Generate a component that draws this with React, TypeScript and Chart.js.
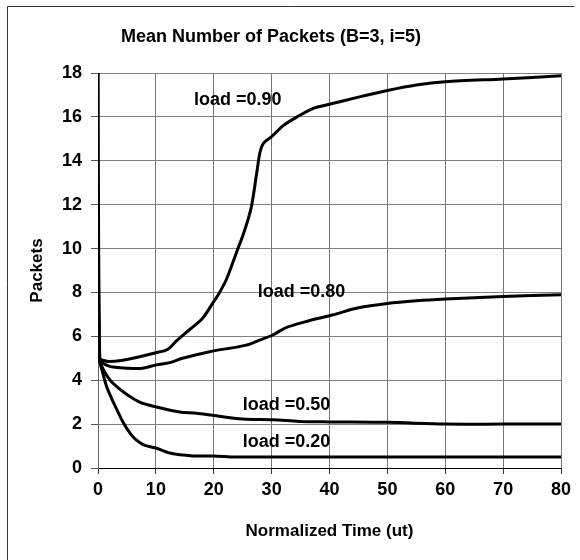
import React, { useEffect, useRef } from "react";
import { Chart, registerables } from "chart.js";

Chart.register(...registerables);

const chartTitle = "Mean Number of Packets (B=3, i=5)";
const xTitle = "Normalized Time (ut)";
const yTitle = "Packets";

const seriesNames = ["load =0.90", "load =0.80", "load =0.50", "load =0.20"];

const time90 = [0, 0.3, 1, 2, 4, 7, 10, 12, 13.6, 15.8, 18, 19.8, 21, 22.2, 23.9, 25.3, 26.5, 27.4, 28, 28.6, 30, 32, 34.4, 37.3, 39.6, 45, 50, 55, 60, 70, 80];
const load90 = [20, 5.0, 4.9, 4.85, 4.9, 5.06, 5.25, 5.4, 5.8, 6.3, 6.8, 7.5, 8.0, 8.6, 9.8, 10.8, 11.9, 13.4, 14.4, 14.8, 15.1, 15.6, 16.0, 16.4, 16.55, 16.9, 17.2, 17.45, 17.6, 17.73, 17.87];

const time80 = [0, 0.3, 1, 1.8, 2.6, 5, 7.7, 10.1, 12.4, 14.6, 19.3, 25.6, 27.9, 30.2, 32.5, 35.9, 40.5, 45, 50, 55, 60, 70, 80];
const load80 = [13, 4.9, 4.75, 4.65, 4.6, 4.55, 4.55, 4.7, 4.8, 5.0, 5.3, 5.6, 5.83, 6.06, 6.4, 6.67, 6.97, 7.3, 7.5, 7.62, 7.7, 7.82, 7.9];

const time50 = [0, 0.3, 1, 2.1, 3.5, 5, 7.2, 10.1, 14.1, 17, 19.8, 25, 30.2, 34.8, 40, 50, 60, 70, 80];
const load50 = [7, 4.9, 4.45, 4.0, 3.65, 3.35, 3.0, 2.78, 2.55, 2.5, 2.4, 2.23, 2.2, 2.12, 2.1, 2.08, 2.0, 2.0, 2.0];

const time20 = [0, 0.3, 0.8, 1.5, 2.3, 3.3, 4.3, 5.5, 6.5, 7.7, 8.8, 10, 12.4, 16.4, 19.8, 23.9, 30, 40, 50, 60, 70, 80];
const load20 = [6.8, 4.9, 4.35, 3.7, 3.2, 2.64, 2.1, 1.6, 1.3, 1.08, 0.98, 0.91, 0.68, 0.55, 0.55, 0.5, 0.5, 0.5, 0.5, 0.5, 0.5, 0.5];

// label anchors in data units (time, packets)
const labelTimes = [16.6, 27.6, 25.0, 25.0];
const labelValues = [16.75, 8.0, 2.88, 1.2];

const xMin = 0, xMax = 80, xStep = 10;
const yMin = 0, yMax = 18, yStep = 2;

const zip = (t: number[], v: number[]) => t.map((x, i) => ({ x, y: v[i] }));

const FONT = "'Liberation Sans', Arial, sans-serif";

export default function App() {
  const ref = useRef<HTMLCanvasElement>(null);
  useEffect(() => {
    document.body.style.margin = "0";
    const ctx = ref.current!.getContext("2d")!;
    const series = [zip(time90, load90), zip(time80, load80), zip(time50, load50), zip(time20, load20)];

    const decor = {
      id: "decor",
      beforeDraw(chart: any) {
        const c = chart.ctx;
        c.save();
        c.fillStyle = "#fff";
        c.fillRect(0, 0, chart.width, chart.height);
        c.strokeStyle = "#333";
        c.lineWidth = 1;
        c.beginPath();
        c.moveTo(7.5, 560);
        c.lineTo(7.5, 6.5);
        c.lineTo(574, 6.5);
        c.stroke();
        c.fillStyle = "#000";
        c.font = `bold 18px ${FONT}`;
        c.textAlign = "center";
        c.textBaseline = "middle";
        c.fillText(chartTitle, 271, 37);
        c.restore();
      },
      afterDatasetsDraw(chart: any) {
        const c = chart.ctx;
        const xs = chart.scales.x, ys = chart.scales.y;
        c.save();
        c.fillStyle = "#000";
        c.font = `bold 18px ${FONT}`;
        c.textAlign = "left";
        c.textBaseline = "middle";
        seriesNames.forEach((n, i) => {
          c.fillText(n, xs.getPixelForValue(labelTimes[i]), ys.getPixelForValue(labelValues[i]));
        });
        c.restore();
      },
    };

    const chart = new Chart(ctx, {
      type: "line",
      data: {
        datasets: series.map((d, i) => ({
          label: seriesNames[i],
          data: d,
          borderColor: "#000",
          borderWidth: 3,
          borderJoinStyle: "round",
          borderCapStyle: "round",
          pointRadius: 0,
          tension: 0.3,
          fill: false,
        })),
      },
      options: {
        responsive: false,
        animation: false,
        layout: { padding: { left: 8, right: 19, top: 73, bottom: 8 } },
        plugins: {
          legend: { display: false },
          tooltip: { enabled: false },
          title: { display: false },
        },
        scales: {
          x: {
            type: "linear",
            min: xMin,
            max: xMax,
            ticks: { stepSize: xStep, color: "#000", padding: 5, maxRotation: 0, font: { family: FONT, size: 18, weight: "bold" } },
            grid: { color: "#777", lineWidth: 1, tickLength: 6, tickColor: "#333" },
            border: { color: "#000", width: 1 },
            title: { display: true, text: xTitle, color: "#000", font: { family: FONT, size: 17, weight: "bold" }, padding: { top: 10, bottom: 10 } },
            afterFit: (s: any) => { s.height = 84; },
          },
          y: {
            min: yMin,
            max: yMax,
            ticks: { stepSize: yStep, color: "#000", padding: 9, font: { family: FONT, size: 18, weight: "bold" } },
            grid: { color: "#808080", lineWidth: 1, tickLength: 7, tickColor: "#555" },
            border: { color: "#666", width: 1 },
            title: { display: true, text: yTitle, color: "#000", font: { family: FONT, size: 17, weight: "bold" }, padding: { top: 19, bottom: 10 } },
            afterFit: (s: any) => { s.width = 90; },
          },
        },
      } as any,
      plugins: [decor],
    });
    return () => chart.destroy();
  }, []);
  return (
    <div style={{ position: "absolute", left: 0, top: 0, width: 580, height: 560 }}>
      <canvas ref={ref} width={580} height={560} />
    </div>
  );
}
